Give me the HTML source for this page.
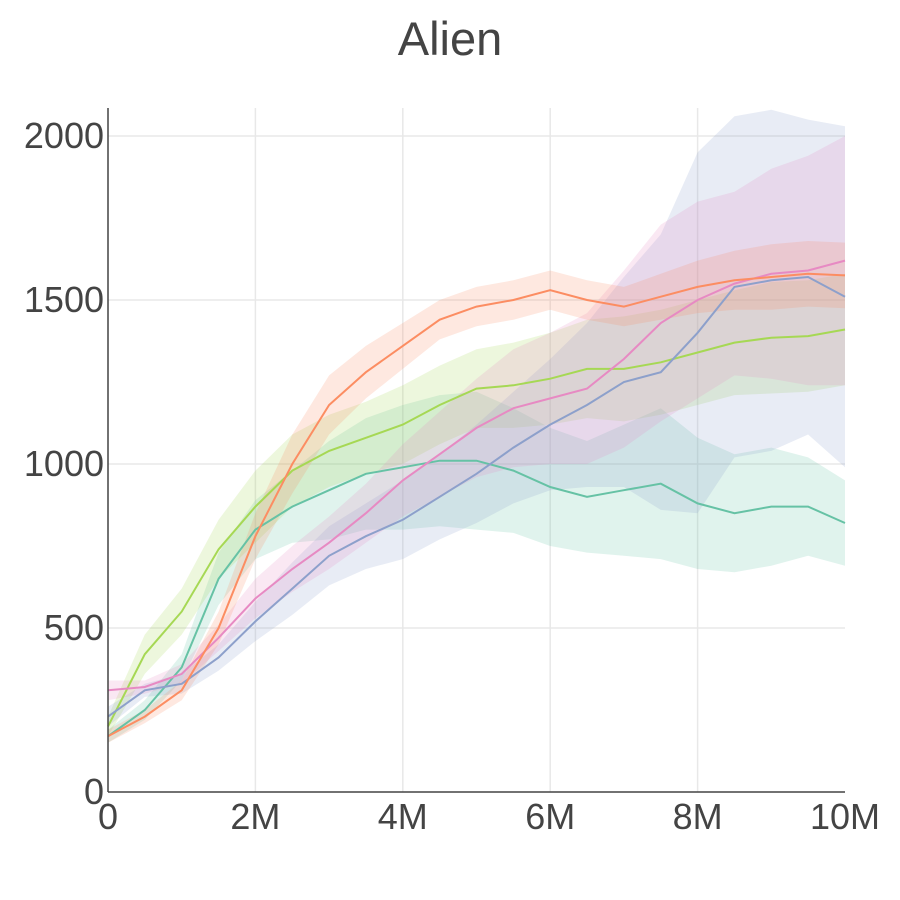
<!DOCTYPE html>
<html><head><meta charset="utf-8"><style>
html,body{margin:0;padding:0;background:#fff;width:900px;height:900px;overflow:hidden}
text{font-family:"Liberation Sans",sans-serif;fill:#444}
</style></head><body>
<svg id="s" width="900" height="900" xmlns="http://www.w3.org/2000/svg">
<text x="450" y="55" font-size="47" text-anchor="middle">Alien</text>
<g stroke="#e8e8e8" stroke-width="1.5">
<line x1="255.4" y1="108" x2="255.4" y2="792"/><line x1="402.8" y1="108" x2="402.8" y2="792"/>
<line x1="550.2" y1="108" x2="550.2" y2="792"/><line x1="697.6" y1="108" x2="697.6" y2="792"/>
<line x1="108" y1="628" x2="845" y2="628"/><line x1="108" y1="464" x2="845" y2="464"/>
<line x1="108" y1="300" x2="845" y2="300"/><line x1="108" y1="136" x2="845" y2="136"/>
</g>
<g id="d"></g>
<line x1="108" y1="108" x2="108" y2="792" stroke="#444" stroke-width="1.5"/>
<line x1="108" y1="792" x2="845" y2="792" stroke="#444" stroke-width="1.5"/>
<g font-size="36" text-anchor="end">
<text x="104" y="804">0</text><text x="104" y="640">500</text><text x="104" y="476">1000</text>
<text x="104" y="312">1500</text><text x="104" y="148">2000</text>
</g>
<g font-size="36" text-anchor="middle">
<text x="108" y="829">0</text><text x="255.4" y="829">2M</text><text x="402.8" y="829">4M</text>
<text x="550.2" y="829">6M</text><text x="697.6" y="829">8M</text><text x="845" y="829">10M</text>
</g>
</svg>
<script>
var X=[0,0.5,1,1.5,2,2.5,3,3.5,4,4.5,5,5.5,6,6.5,7,7.5,8,8.5,9,9.5,10];
var S=[
{c:"#66c2a5",m:[170,250,380,650,800,870,920,970,990,1010,1010,980,930,900,920,940,880,850,870,870,820],w:[20,30,40,80,90,110,150,170,190,200,210,190,180,170,200,230,200,180,180,150,130]},
{c:"#a6d854",m:[200,420,550,740,870,980,1040,1080,1120,1180,1230,1240,1260,1290,1290,1310,1340,1370,1385,1390,1410],w:[30,60,70,90,110,110,110,110,120,120,120,130,140,150,160,160,160,160,170,170,170]},
{c:"#8da0cb",m:[230,310,330,410,520,620,720,780,830,900,970,1050,1120,1180,1250,1280,1400,1540,1560,1570,1510],w:[30,20,30,40,60,80,90,100,120,130,150,170,200,250,320,420,550,520,520,480,520]},
{c:"#e78ac3",m:[310,320,360,470,590,680,760,850,950,1030,1110,1170,1200,1230,1320,1430,1500,1550,1580,1590,1620],w:[30,20,30,40,60,70,80,90,110,130,150,180,200,230,270,300,300,280,320,350,380]},
{c:"#fc8d62",m:[170,230,310,500,780,1000,1180,1280,1360,1440,1480,1500,1530,1500,1480,1510,1540,1560,1570,1580,1575],w:[20,20,30,50,70,90,90,80,70,60,60,60,60,60,60,70,80,90,100,100,100]}];
function px(x){return 108+x*73.7}function py(v){return 792-v*0.328}
var g=document.getElementById("d"),h="",l="";
S.forEach(function(s){var u=[],d=[],m=[];
for(var i=0;i<X.length;i++){u.push(px(X[i]).toFixed(1)+","+py(s.m[i]+s.w[i]).toFixed(1));d.unshift(px(X[i]).toFixed(1)+","+py(s.m[i]-s.w[i]).toFixed(1));m.push(px(X[i]).toFixed(1)+","+py(s.m[i]).toFixed(1));}
h+='<polygon points="'+u.concat(d).join(" ")+'" fill="'+s.c+'" fill-opacity="0.2"/>';
l+='<polyline points="'+m.join(" ")+'" fill="none" stroke="'+s.c+'" stroke-width="2"/>';});
g.innerHTML=h+l;
</script>
</body></html>
